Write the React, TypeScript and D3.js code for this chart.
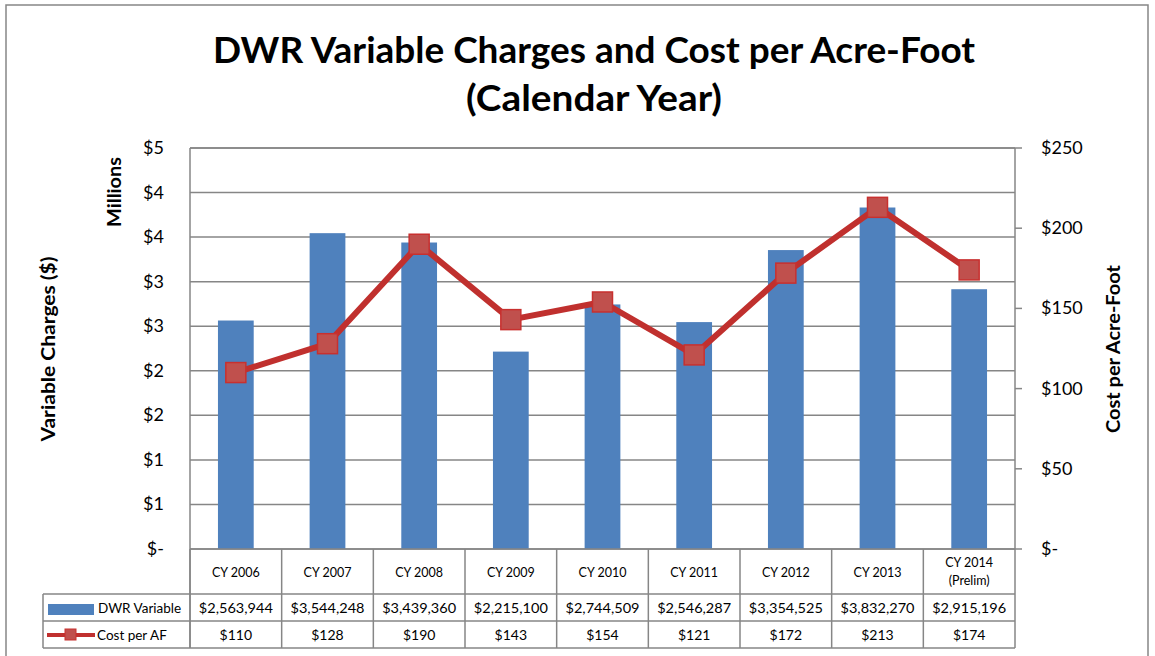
import { useEffect } from 'react'
import * as d3 from 'd3'

const categories = ['CY 2006', 'CY 2007', 'CY 2008', 'CY 2009', 'CY 2010', 'CY 2011', 'CY 2012', 'CY 2013', 'CY 2014']
const categorySub = ['', '', '', '', '', '', '', '', '(Prelim)']
const dwrVariable = [2563944, 3544248, 3439360, 2215100, 2744509, 2546287, 3354525, 3832270, 2915196]
const costPerAF = [110, 128, 190, 143, 154, 121, 172, 213, 174]
const leftTicks = [0, 0.5, 1, 1.5, 2, 2.5, 3, 3.5, 4, 4.5]
const rightTicks = [0, 50, 100, 150, 200, 250]

const W = 1155
const H = 656
const FONT = 'Lato, "Open Sans", sans-serif'
const GRID = '#868686'
const BLUE = '#4F81BD'
const RED = '#C0302E'

const plot = { left: 190, right: 1015, top: 148, bottom: 549 }
const tableRows = { head: 594, dwr: 621, cost: 648 }
const legendLeft = 43

const fmtMoney = d3.format('$,.0f')
const leftLabel = (v: number) => (v === 0 ? '$-' : '$' + Math.round(v + 1e-9))
const rightLabel = (v: number) => (v === 0 ? '$-' : '$' + v)

export default function App() {
  useEffect(() => {
    document.body.style.margin = '0'
  }, [])

  const x = d3.scaleBand<string>().domain(categories).range([plot.left, plot.right]).paddingInner(0).paddingOuter(0)
  const yLeft = d3.scaleLinear().domain([0, 4.5e6]).range([plot.bottom, plot.top])
  const yRight = d3.scaleLinear().domain([0, 250]).range([plot.bottom, plot.top])
  const barW = x.bandwidth() * 0.39
  const cx = (c: string) => (x(c) as number) + x.bandwidth() / 2

  const line = d3.line<number>()
    .x((_, i) => cx(categories[i]))
    .y(d => yRight(d))

  const colEdges = [plot.left, ...categories.map(c => (x(c) as number) + x.bandwidth())]

  return (
    <svg width={W} height={H} style={{ display: 'block', background: '#fff' }} fontFamily={FONT}>
      {/* outer frame */}
      <rect x={6} y={5} width={1142} height={H + 10} fill="none" stroke={GRID} strokeWidth={1.5} />

      {/* title */}
      <text x={594} y={63} textAnchor="middle" fontSize={36} fontWeight="bold" fill="#000"
        textLength={762} lengthAdjust="spacingAndGlyphs">
        DWR Variable Charges and Cost per Acre-Foot
      </text>
      <text x={594} y={111} textAnchor="middle" fontSize={36} fontWeight="bold" fill="#000"
        textLength={256} lengthAdjust="spacingAndGlyphs">
        (Calendar Year)
      </text>

      {/* gridlines */}
      {leftTicks.map(t => (
        <line key={'g' + t} x1={plot.left} x2={plot.right} y1={yLeft(t * 1e6)} y2={yLeft(t * 1e6)} stroke={GRID} strokeWidth={1.5} />
      ))}
      <line x1={plot.left} x2={plot.right} y1={plot.top} y2={plot.top} stroke={GRID} strokeWidth={1.5} />

      {/* left axis labels */}
      {leftTicks.map((t, i) => (
        <text key={'l' + i} x={164} y={yLeft(t * 1e6) + 6} textAnchor="end" fontSize={18} fill="#000">
          {leftLabel(t)}
        </text>
      ))}

      {/* right axis */}
      <line x1={plot.right} x2={plot.right} y1={plot.top} y2={plot.bottom} stroke={GRID} strokeWidth={1.5} />
      {rightTicks.map(t => (
        <g key={'r' + t}>
          <line x1={plot.right} x2={plot.right + 7} y1={yRight(t)} y2={yRight(t)} stroke={GRID} strokeWidth={1.5} />
          <text x={1041} y={yRight(t) + 6} fontSize={18} fill="#000">{rightLabel(t)}</text>
        </g>
      ))}

      {/* axis titles */}
      <text transform={`translate(55,349) rotate(-90)`} textAnchor="middle" fontSize={18} fontWeight="bold"
        textLength={185} lengthAdjust="spacingAndGlyphs">
        Variable Charges ($)
      </text>
      <text transform={`translate(121,192) rotate(-90)`} textAnchor="middle" fontSize={18} fontWeight="bold"
        textLength={70} lengthAdjust="spacingAndGlyphs">
        Millions
      </text>
      <text transform={`translate(1120,349) rotate(-90)`} textAnchor="middle" fontSize={18} fontWeight="bold"
        textLength={168} lengthAdjust="spacingAndGlyphs">
        Cost per Acre-Foot
      </text>

      {/* bars */}
      {dwrVariable.map((v, i) => (
        <rect key={'b' + i} x={cx(categories[i]) - barW / 2} y={yLeft(v)} width={barW}
          height={plot.bottom - yLeft(v)} fill={BLUE} />
      ))}

      {/* cost line */}
      <path d={line(costPerAF) || ''} fill="none" stroke={RED} strokeWidth={6} strokeLinejoin="round" />
      {costPerAF.map((v, i) => (
        <rect key={'m' + i} x={cx(categories[i]) - 10} y={yRight(v) - 10} width={20} height={20}
          fill="#C0504D" stroke="#C8302F" strokeWidth={1.5} />
      ))}

      {/* left axis line */}
      <line x1={plot.left} x2={plot.left} y1={plot.top} y2={tableRows.cost} stroke={GRID} strokeWidth={1.5} />

      {/* data table */}
      <g stroke={GRID} strokeWidth={1.5}>
        <line x1={plot.left} x2={plot.right} y1={plot.bottom} y2={plot.bottom} />
        <line x1={legendLeft} x2={plot.right} y1={tableRows.head} y2={tableRows.head} />
        <line x1={legendLeft} x2={plot.right} y1={tableRows.dwr} y2={tableRows.dwr} />
        <line x1={legendLeft} x2={plot.right} y1={tableRows.cost} y2={tableRows.cost} />
        <line x1={legendLeft} x2={legendLeft} y1={tableRows.head} y2={tableRows.cost} />
        {colEdges.map((e, i) => (
          <line key={'c' + i} x1={e} x2={e} y1={plot.bottom} y2={tableRows.cost} />
        ))}
      </g>

      {categories.map((c, i) => (
        categorySub[i] ? (
          <g key={'h' + i}>
            <text x={cx(c)} y={567} textAnchor="middle" fontSize={12.5}>{c}</text>
            <text x={cx(c)} y={585} textAnchor="middle" fontSize={12.5}>{categorySub[i]}</text>
          </g>
        ) : (
          <text key={'h' + i} x={cx(c)} y={577} textAnchor="middle" fontSize={12.5}>{c}</text>
        )
      ))}
      {dwrVariable.map((v, i) => (
        <text key={'dv' + i} x={cx(categories[i])} y={613} textAnchor="middle" fontSize={14}
          textLength={74} lengthAdjust="spacingAndGlyphs">{fmtMoney(v)}</text>
      ))}
      {costPerAF.map((v, i) => (
        <text key={'cv' + i} x={cx(categories[i])} y={640} textAnchor="middle" fontSize={14}>{fmtMoney(v)}</text>
      ))}

      {/* legend keys */}
      <rect x={48} y={604} width={46} height={11} fill={BLUE} />
      <text x={98} y={613} fontSize={13.5}>DWR Variable</text>
      <line x1={47} x2={95} y1={635} y2={635} stroke={RED} strokeWidth={4} />
      <rect x={65} y={629} width={11} height={11} fill="#C0504D" stroke="#C8302F" strokeWidth={1} />
      <text x={97} y={640} fontSize={13.5}>Cost per AF</text>
    </svg>
  )
}
